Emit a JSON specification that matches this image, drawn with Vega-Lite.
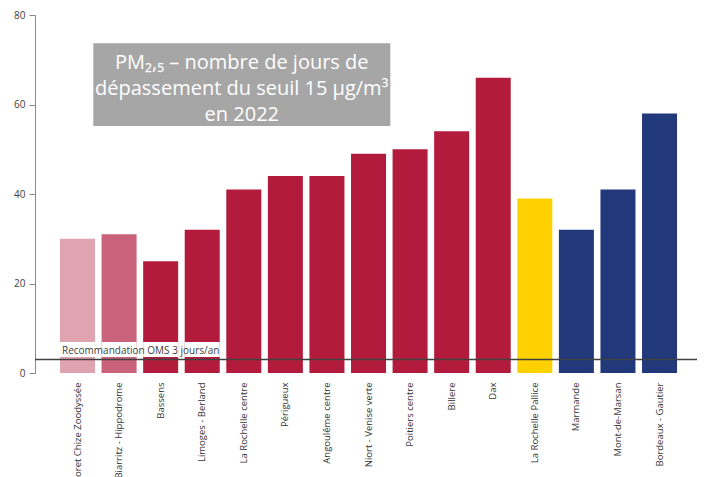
{
  "$schema": "https://vega.github.io/schema/vega-lite/v6.json",
  "width": 662,
  "height": 358,
  "autosize": "none",
  "padding": {"left": 35, "top": 15, "right": 7, "bottom": 104},
  "background": "white",
  "config": {"view": {"stroke": null}, "font": "Open Sans"},
  "data": {"values": [
    {"station": "Foret Chize Zoodyssée", "jours": 30, "groupe": "A"},
    {"station": "Biarritz - Hippodrome", "jours": 31, "groupe": "B"},
    {"station": "Bassens", "jours": 25, "groupe": "C"},
    {"station": "Limoges - Berland", "jours": 32, "groupe": "C"},
    {"station": "La Rochelle centre", "jours": 41, "groupe": "C"},
    {"station": "Périgueux", "jours": 44, "groupe": "C"},
    {"station": "Angoulême centre", "jours": 44, "groupe": "C"},
    {"station": "Niort - Venise verte", "jours": 49, "groupe": "C"},
    {"station": "Poitiers centre", "jours": 50, "groupe": "C"},
    {"station": "Billere", "jours": 54, "groupe": "C"},
    {"station": "Dax", "jours": 66, "groupe": "C"},
    {"station": "La Rochelle Pallice", "jours": 39, "groupe": "D"},
    {"station": "Marmande", "jours": 32, "groupe": "E"},
    {"station": "Mont-de-Marsan", "jours": 41, "groupe": "E"},
    {"station": "Bordeaux - Gautier", "jours": 58, "groupe": "E"}
  ]},
  "layer": [
    {
      "mark": {"type": "bar"},
      "encoding": {
        "x": {
          "field": "station", "type": "nominal", "sort": null,
          "scale": {"paddingInner": 0.158, "paddingOuter": 0.541, "align": 0.556},
          "axis": {"title": null, "labelAngle": -90, "domain": false, "ticks": false, "labelFontSize": 9.5, "labelColor": "#333333", "labelPadding": 9}
        },
        "y": {
          "field": "jours", "type": "quantitative",
          "scale": {"domain": [0, 80]},
          "axis": {"title": null, "values": [0, 20, 40, 60, 80], "grid": false, "domainColor": "#888888", "tickColor": "#888888", "tickSize": 6, "labelFontSize": 10, "labelColor": "#404040", "labelPadding": 4}
        },
        "color": {
          "field": "groupe", "type": "nominal", "legend": null,
          "scale": {"domain": ["A", "B", "C", "D", "E"], "range": ["#E0A4B1", "#C9627A", "#B31B3C", "#FFD100", "#21387A"]}
        }
      }
    },
    {
      "data": {"values": [
        {"station": "Foret Chize Zoodyssée"},
        {"station": "Biarritz - Hippodrome"},
        {"station": "Bassens"},
        {"station": "Limoges - Berland"}
      ]},
      "mark": {"type": "bar", "color": "white"},
      "encoding": {
        "x": {"field": "station", "type": "nominal", "sort": null},
        "y": {"datum": 3.6, "type": "quantitative"},
        "y2": {"datum": 6.9}
      }
    },
    {
      "data": {"values": [{}]},
      "mark": {"type": "rule", "color": "#404040", "strokeWidth": 1.5},
      "encoding": {"y": {"datum": 3, "type": "quantitative"}}
    },
    {
      "data": {"values": [{"station": "Foret Chize Zoodyssée", "label": "Recommandation OMS 3 jours/an"}]},
      "mark": {"type": "text", "align": "left", "baseline": "middle", "dx": 2, "fontSize": 10, "color": "#404040"},
      "encoding": {
        "x": {"field": "station", "type": "nominal", "sort": null, "bandPosition": 0},
        "y": {"datum": 4.9, "type": "quantitative"},
        "text": {"field": "label"}
      }
    },
    {
      "data": {"values": [{"station": "La Rochelle centre"}]},
      "mark": {"type": "bar", "color": "#A6A6A6", "width": 297, "xOffset": -2},
      "encoding": {
        "x": {"field": "station", "type": "nominal", "sort": null},
        "y": {"datum": 55.2, "type": "quantitative"},
        "y2": {"datum": 73.7}
      }
    },
    {
      "data": {"values": [{"station": "La Rochelle centre"}]},
      "mark": {"type": "text", "align": "center", "baseline": "middle", "fontSize": 20, "lineHeight": 26, "color": "white", "dx": -2,
        "text": ["PM₂,₅ – nombre de jours de", "dépassement du seuil 15 µg/m³", "en 2022"]},
      "encoding": {
        "x": {"field": "station", "type": "nominal", "sort": null},
        "y": {"datum": 69.3, "type": "quantitative"}
      }
    }
  ]
}
